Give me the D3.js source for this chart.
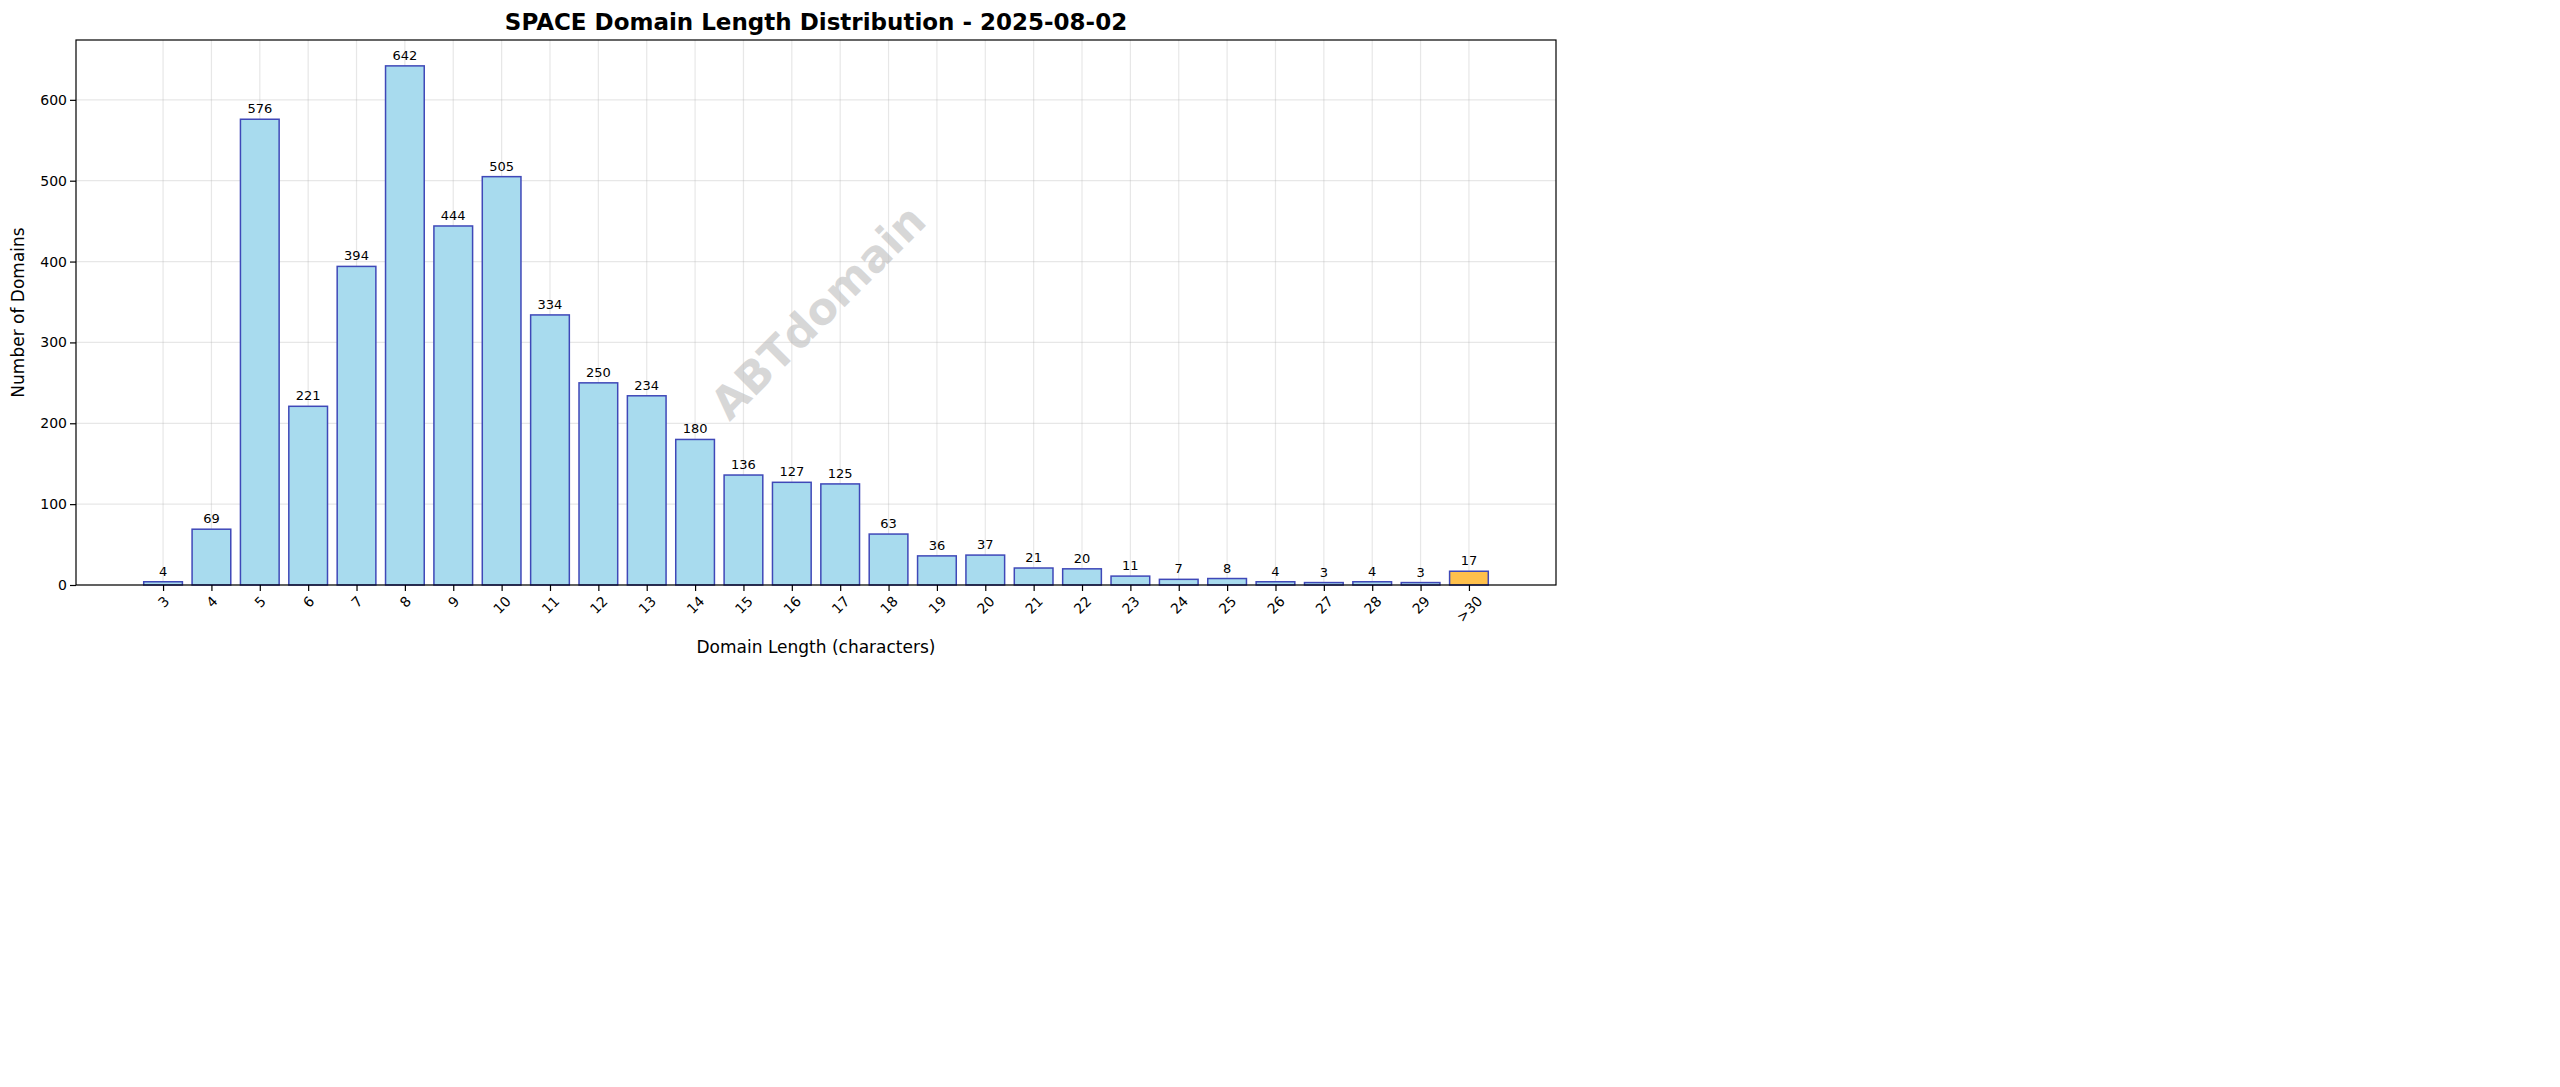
<!DOCTYPE html>
<html>
<head>
<meta charset="utf-8">
<script src="https://cdn.jsdelivr.net/npm/d3@7"></script>
<style>
  body { margin: 0; background: #fff; }
  text { font-family: "DejaVu Sans", sans-serif; }
</style>
</head>
<body>
<div id="chart"></div>
<script>
// Data
const categories = ["3","4","5","6","7","8","9","10","11","12","13","14","15","16","17","18","19","20","21","22","23","24","25","26","27","28","29",">30"];
const counts = [4,69,576,221,394,642,444,505,334,250,234,180,136,127,125,63,36,37,21,20,11,7,8,4,3,4,3,17];
const yTicks = [0,100,200,300,400,500,600];

const W = 2560, H = 1087;
const margin = {top: 40, left: 76};
const width = 1556 - margin.left;
const height = 585 - margin.top;

const svg = d3.select("#chart").append("svg")
    .attr("width", W).attr("height", H)
    .append("g")
    .attr("transform", "translate(" + margin.left + "," + margin.top + ")");

// Scales
const x = d3.scaleLinear().domain([-1.8, categories.length - 1 + 1.8]).range([0, width]);
const bw = x(0.8) - x(0);
const y = d3.scaleLinear().domain([0, 674]).range([height, 0]);

// Grid
svg.append("g").selectAll("line").data(yTicks).enter().append("line")
    .attr("x1", 0).attr("x2", width)
    .attr("y1", d => y(d)).attr("y2", d => y(d))
    .style("stroke", "#b0b0b0").style("stroke-opacity", 0.3).style("stroke-width", 1.2);
svg.append("g").selectAll("line").data(categories).enter().append("line")
    .attr("x1", (d, i) => x(i)).attr("x2", (d, i) => x(i))
    .attr("y1", 0).attr("y2", height)
    .style("stroke", "#b0b0b0").style("stroke-opacity", 0.3).style("stroke-width", 1.2);

// Watermark
svg.append("text")
    .attr("transform", "translate(" + (818 - margin.left) + "," + (312 - margin.top) + ") rotate(-45)")
    .attr("text-anchor", "middle").attr("dy", "0.35em")
    .style("font-size", "44px").style("font-weight", "bold")
    .style("fill", "#bdbdbd").style("fill-opacity", 0.6)
    .text("ABTdomain");

// Bars
svg.selectAll(".bar").data(counts).enter().append("rect")
    .attr("x", (d, i) => x(i) - bw / 2)
    .attr("y", d => y(d))
    .attr("width", bw)
    .attr("height", d => height - y(d))
    .style("fill", (d, i) => categories[i] === ">30" ? "#ffc04c" : "#a8dbee")
    .style("stroke", "#3f48b8")
    .style("stroke-width", 1.5);

// Value labels
svg.selectAll(".label").data(counts).enter().append("text")
    .attr("x", (d, i) => x(i))
    .attr("y", d => y(d) - 6)
    .attr("text-anchor", "middle")
    .style("font-size", "13px")
    .text(d => d);

// Axes
svg.append("g")
    .attr("transform", "translate(0," + height + ")")
    .call(d3.axisBottom(x).tickValues(d3.range(categories.length)).tickFormat(i => categories[i]).tickSize(6).tickSizeOuter(0))
    .call(g => g.select(".domain").remove())
    .selectAll("text")
    .style("font-size", "14px")
    .attr("text-anchor", "middle")
    .attr("y", 0).attr("dy", "0.35em")
    .attr("transform", d => "translate(0," + (categories[d].length > 2 ? 24 : categories[d].length > 1 ? 20 : 17) + ") rotate(-45)");

svg.append("g")
    .call(d3.axisLeft(y).tickValues(yTicks).tickSize(6).tickSizeOuter(0))
    .call(g => g.select(".domain").remove())
    .selectAll("text").style("font-size", "14px");

svg.selectAll(".tick line").style("stroke", "#000").style("stroke-width", 1.2);

// Frame
svg.append("rect").attr("width", width).attr("height", height)
    .style("fill", "none").style("stroke", "#000").style("stroke-width", 1.2);

// Titles
svg.append("text")
    .attr("x", width / 2).attr("y", -10)
    .attr("text-anchor", "middle")
    .style("font-size", "23px").style("font-weight", "bold")
    .text("SPACE Domain Length Distribution - 2025-08-02");

svg.append("text")
    .attr("x", width / 2).attr("y", height + 68)
    .attr("text-anchor", "middle")
    .style("font-size", "17px")
    .text("Domain Length (characters)");

svg.append("text")
    .attr("transform", "translate(-52," + height / 2 + ") rotate(-90)")
    .attr("text-anchor", "middle")
    .style("font-size", "17px")
    .text("Number of Domains");
</script>
</body>
</html>
